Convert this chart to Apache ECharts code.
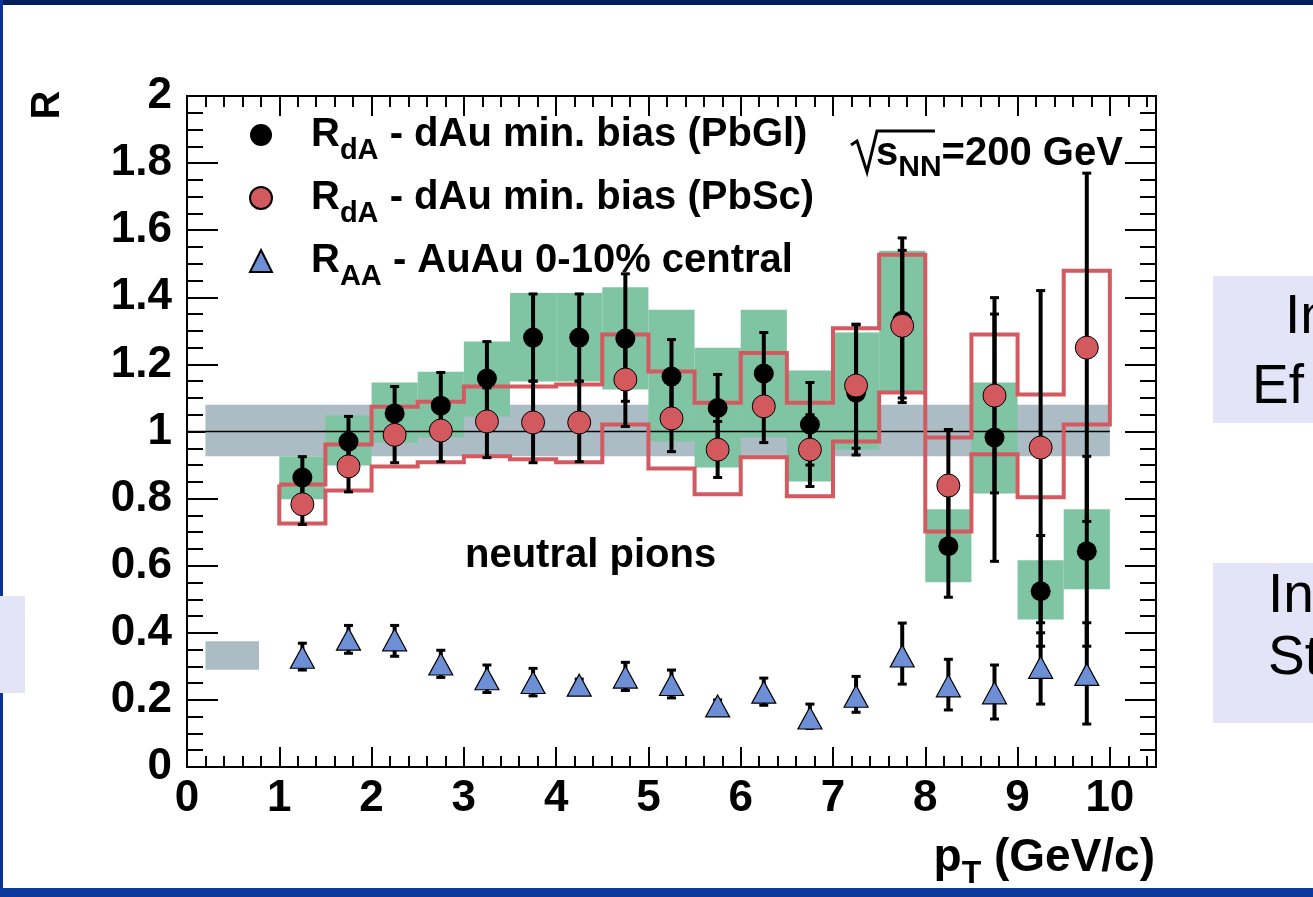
<!DOCTYPE html>
<html><head><meta charset="utf-8">
<script src="https://cdn.jsdelivr.net/npm/echarts@6/dist/echarts.min.js"></script>
<style>html,body{margin:0;padding:0;background:#fff;overflow:hidden}#c{width:1313px;height:897px}</style>
</head><body><div id="c"></div>
<script>
// ---------------- data ----------------
const pT = [1.25,1.75,2.25,2.75,3.25,3.75,4.25,4.75,5.25,5.75,6.25,6.75,7.25,7.75,8.25,8.75,9.25,9.75];
const binHalfWidth = 0.25;

const pbglR   = [0.863,0.970,1.054,1.077,1.158,1.280,1.280,1.277,1.164,1.070,1.173,1.021,1.116,1.330,0.658,0.982,0.524,0.643];
const pbglLo  = [0.800,0.895,0.975,0.980,1.050,1.150,1.150,1.090,1.055,0.970,1.050,0.900,0.930,1.086,0.506,0.613,0.360,0.360];
const pbglHi  = [0.925,1.045,1.134,1.176,1.268,1.410,1.410,1.470,1.274,1.170,1.295,1.146,1.318,1.577,0.810,1.350,0.690,0.926];
const pbglSysLo = [0.798,0.899,0.967,0.982,1.045,1.149,1.149,1.125,0.970,0.893,0.982,0.851,0.946,1.119,0.551,0.815,0.440,0.530];
const pbglSysHi = [0.926,1.048,1.146,1.178,1.268,1.413,1.413,1.430,1.363,1.250,1.363,1.182,1.295,1.539,0.768,1.146,0.616,0.768];

const pbscR   = [0.783,0.896,0.990,1.003,1.030,1.027,1.027,1.155,1.039,0.946,1.075,0.946,1.137,1.315,0.839,1.107,0.952,1.250];
const pbscLo  = [0.723,0.820,0.907,0.910,0.922,0.907,0.910,1.015,0.940,0.863,0.967,0.836,0.950,1.100,0.670,0.817,0.430,0.732];
const pbscHi  = [0.843,0.970,1.070,1.090,1.130,1.150,1.150,1.300,1.140,1.030,1.180,1.050,1.320,1.540,1.006,1.399,1.420,1.770];
const pbscSysLo = [0.726,0.824,0.896,0.908,0.926,0.917,0.908,1.021,0.890,0.813,0.923,0.807,0.970,1.116,0.702,0.932,0.804,1.021];
const pbscSysHi = [0.842,0.961,1.074,1.089,1.134,1.134,1.140,1.289,1.179,1.086,1.234,1.086,1.308,1.527,0.982,1.289,1.110,1.479];

const auauR   = [0.327,0.381,0.379,0.307,0.263,0.252,0.244,0.268,0.246,0.182,0.223,0.146,0.211,0.331,0.242,0.221,0.297,0.276];
const auauLo  = [0.289,0.339,0.330,0.267,0.222,0.212,0.225,0.228,0.206,0.165,0.184,0.115,0.163,0.247,0.170,0.143,0.1875,0.128];
const auauHi  = [0.369,0.422,0.422,0.348,0.304,0.294,0.262,0.312,0.289,0.200,0.265,0.1875,0.270,0.429,0.321,0.304,0.400,0.430];

// normalisation bands: [xFrom, xTo, yLo, yHi]
const dAuNormBand = [0.2, 10.0, 0.926, 1.080];
const auauNormBand = [0.2, 0.78, 0.290, 0.375];
const unityLine = [[0, 1], [10, 1]];

const xTickValues = [0,1,2,3,4,5,6,7,8,9,10];
const yTickValues = [0,0.2,0.4,0.6,0.8,1,1.2,1.4,1.6,1.8,2];

const seriesNames = ['RdA - dAu min. bias (PbGl)', 'RdA - dAu min. bias (PbSc)', 'RAA - AuAu 0-10% central'];
const legendParts = {
  'RdA - dAu min. bias (PbGl)': ['R', 'dA', ' - dAu min. bias (PbGl)'],
  'RdA - dAu min. bias (PbSc)': ['R', 'dA', ' - dAu min. bias (PbSc)'],
  'RAA - AuAu 0-10% central':   ['R', 'AA', ' - AuAu 0-10% central']
};

// ---------------- helpers ----------------
const FONT = "'Liberation Sans', Arial, Helvetica, sans-serif";
function bold(size, extra) { return Object.assign({fontFamily: FONT, fontWeight: 'bold', fontSize: size, color: '#000'}, extra || {}); }

function rectRender(color) {
  return function (params, api) {
    const a = api.coord([api.value(0), api.value(3)]);
    const b = api.coord([api.value(1), api.value(2)]);
    return {type: 'rect', shape: {x: a[0], y: a[1], width: b[0] - a[0], height: b[1] - a[1]}, style: {fill: color}};
  };
}
function errRender(params, api) {
  const x = api.value(0);
  const lo = api.coord([x, api.value(1)]);
  const hi = api.coord([x, api.value(2)]);
  return {type: 'group', children: [
    {type: 'line', shape: {x1: lo[0], y1: lo[1], x2: hi[0], y2: hi[1]}, style: {stroke: '#000', lineWidth: 4}},
    {type: 'rect', shape: {x: lo[0] - 4.5, y: lo[1] - 1.5, width: 9, height: 3}, style: {fill: '#000'}},
    {type: 'rect', shape: {x: hi[0] - 4.5, y: hi[1] - 1.5, width: 9, height: 3}, style: {fill: '#000'}}
  ]};
}
// closed step outline of PbSc systematic boxes
const outline = [];
pT.forEach((x, i) => { outline.push([x - binHalfWidth, pbscSysHi[i]]); outline.push([x + binHalfWidth, pbscSysHi[i]]); });
for (let i = pT.length - 1; i >= 0; i--) { outline.push([pT[i] + binHalfWidth, pbscSysLo[i]]); outline.push([pT[i] - binHalfWidth, pbscSysLo[i]]); }
outline.push([pT[0] - binHalfWidth, pbscSysHi[0]]);

// rich styles: subscripts are pushed down with top padding
function subStyles(base, sub, lh, pad) {
  return {
    g: {width: 34},
    b: bold(base, {lineHeight: lh, verticalAlign: 'middle'}),
    s: bold(sub, {lineHeight: lh, verticalAlign: 'top', padding: [pad, 0, 0, 0]})
  };
}

const axisLineStyle = {show: true, onZero: false, lineStyle: {color: '#000', width: 2}};
function xAx(position, interval, tickLen, labels) {
  return {
    type: 'value', min: 0, max: 10.5, interval: interval, position: position,
    axisLine: axisLineStyle, splitLine: {show: false},
    axisTick: {show: true, inside: true, length: tickLen, lineStyle: {color: '#000', width: 2}},
    axisLabel: labels ? Object.assign({show: true, margin: 10,
      formatter: v => xTickValues.indexOf(v) >= 0 ? String(v) : ''}, bold(44)) : {show: false}
  };
}
function yAx(position, labels) {
  return {
    type: 'value', min: 0, max: 2, interval: 0.2, position: position,
    axisLine: axisLineStyle, splitLine: {show: false},
    axisTick: {show: true, inside: true, length: 31, lineStyle: {color: '#000', width: 2}},
    minorTick: {show: true, splitNumber: 4, length: 16, lineStyle: {color: '#000', width: 2}},
    axisLabel: labels ? Object.assign({show: true, margin: 15, formatter: v => {
      const t = yTickValues.find(u => Math.abs(u - v) < 1e-6);
      return t === undefined ? '' : String(t);
    }}, bold(44)) : {show: false}
  };
}

const option = {
  animation: false,
  backgroundColor: '#ffffff',
  grid: {left: 187, top: 96, width: 969, height: 671, containLabel: false},
  xAxis: [
    xAx('bottom', 1, 20, true),
    xAx('top', 1, 20, false),
    xAx('bottom', 0.2, 11, false),
    xAx('top', 0.2, 11, false)
  ],
  yAxis: [yAx('left', true), yAx('right', false)],
  legend: {
    data: [
      {name: seriesNames[0], icon: 'circle'},
      {name: seriesNames[1], icon: 'circle'},
      {name: seriesNames[2], icon: 'triangle'}
    ],
    orient: 'vertical', left: 249, top: 115, padding: 0,
    itemWidth: 22, itemHeight: 22, itemGap: 13,
    selectedMode: false,
    formatter: name => { const p = legendParts[name]; return '{g| }{b|' + p[0] + '}{s|' + p[1] + '}{b|' + p[2] + '}'; },
    textStyle: {rich: subStyles(40, 29, 40, 21)}
  },
  series: [
    {type: 'custom', name: 'normalization', renderItem: rectRender('#abbcc5'), data: [dAuNormBand, auauNormBand],
     encode: {x: [0, 1], y: [2, 3]}, z: 1, silent: true},
    {type: 'custom', name: 'PbGl syst', renderItem: rectRender('#7fc4a3'),
     data: pT.map((x, i) => [x - binHalfWidth, x + binHalfWidth, pbglSysLo[i], pbglSysHi[i]]),
     encode: {x: [0, 1], y: [2, 3]}, z: 2, silent: true},
    {type: 'line', name: 'unity', data: unityLine, symbol: 'none', lineStyle: {color: '#000', width: 1.5}, z: 3, silent: true},
    {type: 'line', name: 'PbSc syst', data: outline, symbol: 'none', lineStyle: {color: '#d35a60', width: 4, join: 'miter'}, z: 3, silent: true},
    {type: 'custom', name: 'AuAu err', renderItem: errRender, data: pT.map((x, i) => [x, auauLo[i], auauHi[i]]),
     encode: {x: 0, y: [1, 2]}, z: 4, silent: true},
    {type: 'custom', name: 'PbGl err', renderItem: errRender, data: pT.map((x, i) => [x, pbglLo[i], pbglHi[i]]),
     encode: {x: 0, y: [1, 2]}, z: 4, silent: true},
    {type: 'custom', name: 'PbSc err', renderItem: errRender, data: pT.map((x, i) => [x, pbscLo[i], pbscHi[i]]),
     encode: {x: 0, y: [1, 2]}, z: 4, silent: true},
    {type: 'scatter', name: seriesNames[0], data: pT.map((x, i) => [x, pbglR[i]]), symbol: 'circle', symbolSize: 20,
     itemStyle: {color: '#000', opacity: 1}, z: 5},
    {type: 'scatter', name: seriesNames[1], data: pT.map((x, i) => [x, pbscR[i]]), symbol: 'circle', symbolSize: 23,
     itemStyle: {color: '#d2595e', borderColor: '#000', borderWidth: 1, opacity: 1}, z: 6},
    {type: 'scatter', name: seriesNames[2], data: pT.map((x, i) => [x, auauR[i]]), symbol: 'triangle', symbolSize: [24, 22],
     itemStyle: {color: '#6d8fd6', borderColor: '#000', borderWidth: 1.2, opacity: 1}, z: 6}
  ],
  graphic: [
    // slide frame and side panels
    {type: 'rect', shape: {x: 0, y: 0, width: 1313, height: 5}, style: {fill: '#00205b'}, silent: true},
    {type: 'rect', shape: {x: 0, y: 0, width: 3, height: 897}, style: {fill: '#0a3399'}, silent: true},
    {type: 'rect', shape: {x: 0, y: 888, width: 1313, height: 9}, style: {fill: '#0b3a9c'}, silent: true},
    {type: 'rect', shape: {x: 0, y: 596, width: 25, height: 97}, style: {fill: '#e4e4f9'}, silent: true},
    {type: 'rect', shape: {x: 1213, y: 276, width: 100, height: 147}, style: {fill: '#e4e4f9'}, silent: true},
    {type: 'rect', shape: {x: 1213, y: 563, width: 100, height: 160}, style: {fill: '#e4e4f9'}, silent: true},
    {type: 'text', x: 1285, y: 318, style: {text: 'In', fontFamily: FONT, fontSize: 55, fill: '#000', align: 'left', verticalAlign: 'middle'}},
    {type: 'text', x: 1252, y: 388, style: {text: 'Ef', fontFamily: FONT, fontSize: 55, fill: '#000', align: 'left', verticalAlign: 'middle'}},
    {type: 'text', x: 1268, y: 597, style: {text: 'In', fontFamily: FONT, fontSize: 55, fill: '#000', align: 'left', verticalAlign: 'middle'}},
    {type: 'text', x: 1268, y: 659, style: {text: 'St', fontFamily: FONT, fontSize: 55, fill: '#000', align: 'left', verticalAlign: 'middle'}},
    // axis titles
    {type: 'text', x: 48, y: 105, rotation: Math.PI / 2,
     style: Object.assign({text: 'R', fill: '#000', align: 'center', verticalAlign: 'middle'}, bold(40))},
    {type: 'text', x: 1155, y: 858,
     style: {text: '{b|p}{s|T}{b| (GeV/c)}', align: 'right', verticalAlign: 'middle', rich: subStyles(46, 32, 46, 23)}},
    // sqrt(s_NN) label
    {type: 'polyline', shape: {points: [[851, 145], [857, 141], [867, 172], [877, 131], [935, 131]]},
     style: {stroke: '#000', lineWidth: 3, fill: null}, silent: true},
    {type: 'text', x: 876, y: 154,
     style: {text: '{b|s}{s|NN}{b|=200 GeV}', align: 'left', verticalAlign: 'middle', rich: subStyles(40, 30, 40, 19)}},
    {type: 'text', x: 465, y: 556, style: Object.assign({text: 'neutral pions', fill: '#000', align: 'left', verticalAlign: 'middle'}, bold(40))}
  ]
};

const chart = echarts.init(document.getElementById('c'), null, {renderer: 'canvas'});
chart.setOption(option);
</script>
</body></html>
